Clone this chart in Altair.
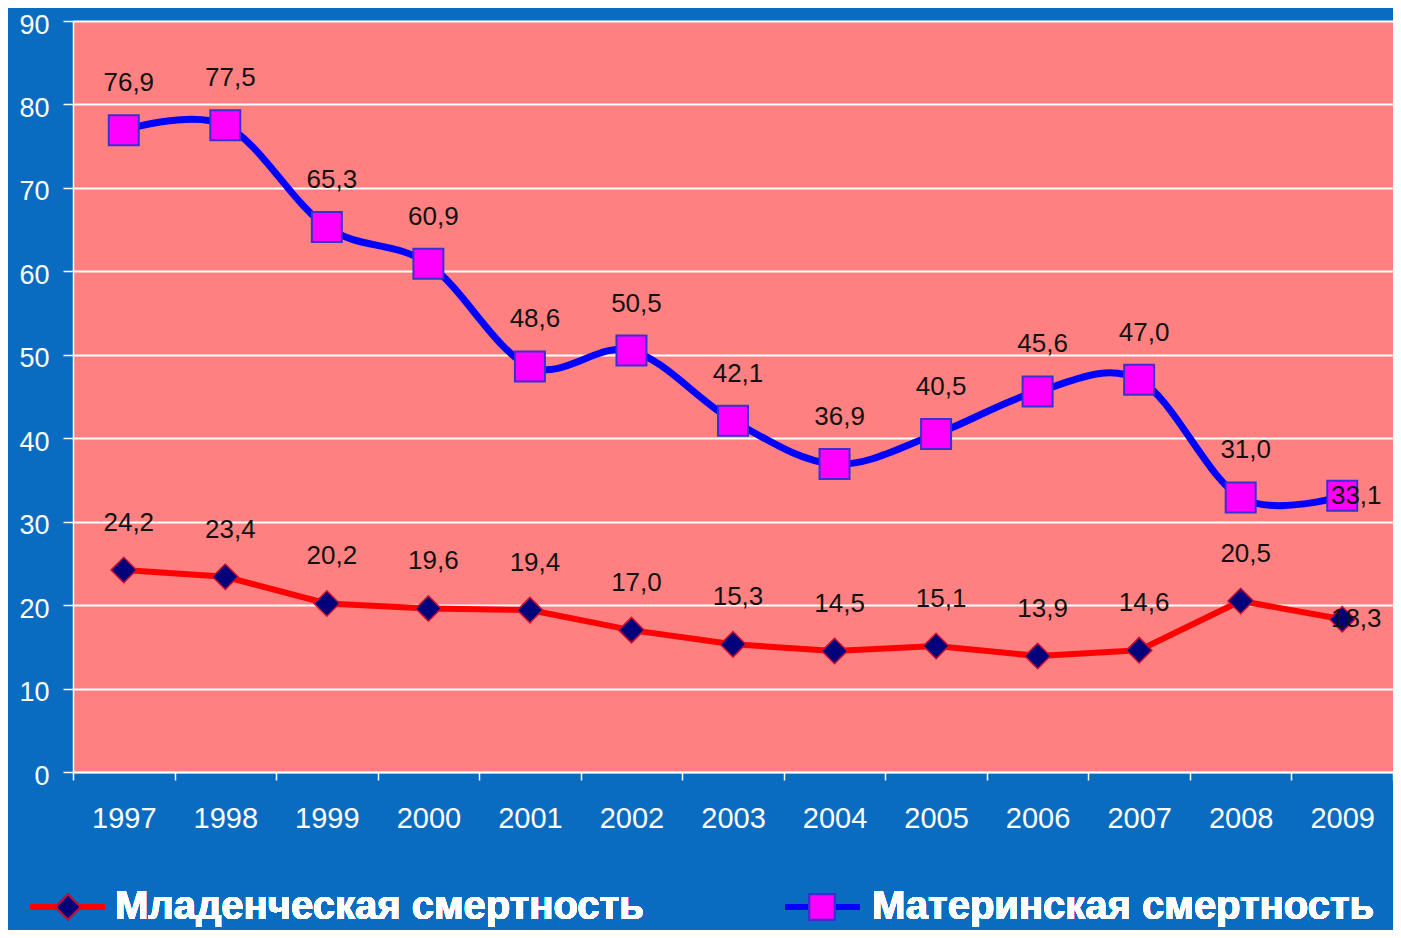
import altair as alt
import pandas as pd

years = [1997, 1998, 1999, 2000, 2001, 2002, 2003, 2004, 2005, 2006, 2007, 2008, 2009]
infant = [24.2, 23.4, 20.2, 19.6, 19.4, 17.0, 15.3, 14.5, 15.1, 13.9, 14.6, 20.5, 18.3]
infant_labels = ["24,2", "23,4", "20,2", "19,6", "19,4", "17,0", "15,3", "14,5",
                 "15,1", "13,9", "14,6", "20,5", "18,3"]
maternal = [76.9, 77.5, 65.3, 60.9, 48.6, 50.5, 42.1, 36.9, 40.5, 45.6, 47.0, 32.9, 33.1]
maternal_labels = ["76,9", "77,5", "65,3", "60,9", "48,6", "50,5", "42,1", "36,9",
                   "40,5", "45,6", "47,0", "31,0", "33,1"]
series_names = ["Младенческая смертность", "Материнская смертность"]
y_ticks = [0, 10, 20, 30, 40, 50, 60, 70, 80, 90]

rows = []
for yr, v, l in zip(years, infant, infant_labels):
    rows.append({"year": yr, "value": v, "label": l, "series": series_names[0]})
for yr, v, l in zip(years, maternal, maternal_labels):
    rows.append({"year": yr, "value": v, "label": l, "series": series_names[1]})
df = pd.DataFrame(rows)

FONT = "Liberation Sans"

x = alt.X("year:O",
          scale=alt.Scale(type="band", paddingInner=0, paddingOuter=0),
          axis=alt.Axis(title=None, labelAngle=0, tickBand="extent",
                        labelColor="white", labelFont=FONT, labelFontSize=29,
                        labelPadding=24, tickColor="white", tickSize=8,
                        tickWidth=1.5, domainColor="white", domainWidth=1.5,
                        grid=False))
y = alt.Y("value:Q",
          scale=alt.Scale(domain=[0, 90], nice=False, zero=True),
          axis=alt.Axis(title=None, values=y_ticks, labelColor="white",
                        labelFont=FONT, labelFontSize=27, labelPadding=14,
                        labelOffset=4,
                        tickColor="white", tickSize=10, tickWidth=1.5,
                        domainColor="white", domainWidth=1.5,
                        gridColor="white", gridWidth=2, grid=True))

base = alt.Chart(df).encode(x=x, y=y)
inf = base.transform_filter(alt.datum.series == series_names[0])
mat = base.transform_filter(alt.datum.series == series_names[1])

inf_line = inf.mark_line(interpolate="linear", color="#ff0000", strokeWidth=6)
mat_line = mat.mark_line(interpolate="cardinal", color="#0000ff", strokeWidth=7)
inf_pts = inf.mark_point(shape="diamond", size=650, filled=True, fill="#00007a",
                         stroke="#d01030", strokeWidth=1.5, opacity=1)
mat_pts = mat.mark_point(shape="square", size=900, filled=True, fill="#ff00ff",
                         stroke="#3a2fd0", strokeWidth=2, opacity=1)

lab_main = base.transform_filter(alt.datum.year < 2009).mark_text(
    font=FONT, fontSize=26, color="#111111", dx=5, dy=-47).encode(text="label:N")
lab_last = base.transform_filter(alt.datum.year == 2009).mark_text(
    font=FONT, fontSize=26, color="#111111", dx=14, dy=0).encode(text="label:N")

# legend
leg_y = 886
legend_layers = [
    alt.Chart(df).mark_rule(color="#ff0000", strokeWidth=6).encode(
        x=alt.value(-43), x2=alt.value(32), y=alt.value(leg_y)),
    alt.Chart(df).mark_point(shape="diamond", size=600, filled=True, fill="#00007a",
                             stroke="#d01030", strokeWidth=1.5, opacity=1).encode(
        x=alt.value(-5), y=alt.value(leg_y)),
    alt.Chart(df).mark_text(text=series_names[0], font=FONT, fontSize=40,
                            fontWeight="bold", color="white", align="left",
                            baseline="middle").encode(
        x=alt.value(42), y=alt.value(leg_y)),
    alt.Chart(df).mark_rule(color="#0000ff", strokeWidth=6).encode(
        x=alt.value(712), x2=alt.value(787), y=alt.value(leg_y)),
    alt.Chart(df).mark_point(shape="square", size=650, filled=True, fill="#ff00ff",
                             stroke="#3a2fd0", strokeWidth=2, opacity=1).encode(
        x=alt.value(749), y=alt.value(leg_y)),
    alt.Chart(df).mark_text(text=series_names[1], font=FONT, fontSize=40,
                            fontWeight="bold", color="white", align="left",
                            baseline="middle").encode(
        x=alt.value(799), y=alt.value(leg_y)),
]

chart = alt.layer(
    inf_line, mat_line, inf_pts, mat_pts, lab_main, lab_last, *legend_layers
).properties(
    width=1320, height=751,
    autosize=alt.AutoSizeParams(type="none"),
    padding={"left": 65, "top": 13, "right": 0, "bottom": 158},
    background="#0a6cc0",
).configure_view(fill="#ff8080", stroke="transparent")

chart.save("out.html", embed_options={"renderer": "svg", "actions": False})
